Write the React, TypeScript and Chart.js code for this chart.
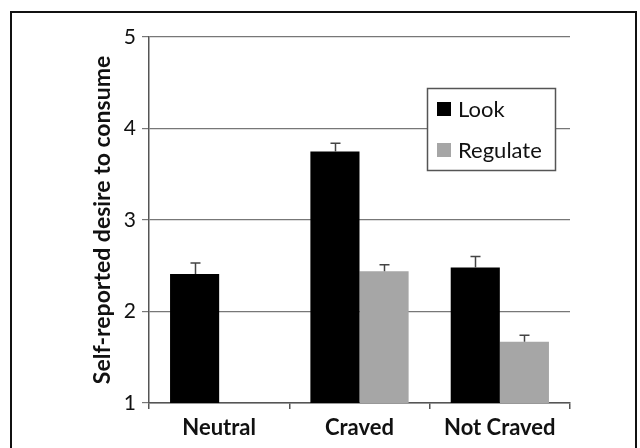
import React, { useEffect, useRef } from "react";
import { Chart, registerables } from "chart.js";

Chart.register(...registerables);

const categories = ["Neutral", "Craved", "Not Craved"];
const seriesNames = ["Look", "Regulate"];
const lookMeans = [2.41, 3.75, 2.48];
const lookErrors = [0.12, 0.09, 0.12];
const regulateMeans = [null, 2.44, 1.67];
const regulateErrors = [null, 0.07, 0.07];
const yTicks = [1, 2, 3, 4, 5];

const FONT = "Lato, 'Open Sans', sans-serif";

export default function App() {
  const ref = useRef<HTMLCanvasElement | null>(null);

  useEffect(() => {
    if (!ref.current) return;
    const errors = [lookErrors, regulateErrors];

    const framePlugin = {
      id: "frame",
      beforeDraw(chart: any) {
        const ctx = chart.ctx;
        ctx.save();
        ctx.fillStyle = "#ffffff";
        ctx.fillRect(0, 0, chart.width, chart.height);
        ctx.strokeStyle = "#111111";
        ctx.lineWidth = 2;
        ctx.strokeRect(11, 12, 625, 460);
        ctx.restore();
      },
    };

    const errorBarPlugin = {
      id: "errorBars",
      afterDatasetsDraw(chart: any) {
        const ctx = chart.ctx;
        const yScale = chart.scales.y;
        ctx.save();
        ctx.strokeStyle = "#444444";
        ctx.lineWidth = 1.5;
        chart.data.datasets.forEach((ds: any, di: number) => {
          const meta = chart.getDatasetMeta(di);
          meta.data.forEach((bar: any, i: number) => {
            const v = ds.data[i];
            const e = errors[di][i];
            if (v == null || e == null) return;
            const x = Math.round(bar.x) + 0.5;
            const y0 = yScale.getPixelForValue(v);
            const y1 = yScale.getPixelForValue(v + e);
            ctx.beginPath();
            ctx.moveTo(x, y0);
            ctx.lineTo(x, y1);
            ctx.moveTo(x - 5, y1);
            ctx.lineTo(x + 5, y1);
            ctx.stroke();
          });
        });
        ctx.restore();
      },
    };

    const legendBoxPlugin = {
      id: "legendBox",
      afterDraw(chart: any) {
        const ctx = chart.ctx;
        const area = chart.chartArea;
        const left = area.right - 143;
        const top = area.top + 51;
        const w = 128;
        const h = 82;
        ctx.save();
        ctx.fillStyle = "#ffffff";
        ctx.fillRect(left, top, w, h);
        ctx.strokeStyle = "#555555";
        ctx.lineWidth = 1.5;
        ctx.strokeRect(left + 0.5, top + 0.5, w, h);
        ctx.font = `22px ${FONT}`;
        ctx.textBaseline = "middle";
        ctx.textAlign = "left";
        chart.data.datasets.forEach((ds: any, i: number) => {
          const sy = top + 14 + i * 41;
          ctx.fillStyle = ds.backgroundColor;
          ctx.fillRect(left + 10, sy, 14, 14);
          ctx.fillStyle = "#111111";
          ctx.fillText(ds.label, left + 31, sy + 8);
        });
        ctx.restore();
      },
    };

    const chart = new Chart(ref.current, {
      type: "bar",
      data: {
        labels: categories,
        datasets: [
          {
            label: seriesNames[0],
            data: lookMeans,
            backgroundColor: "#000000",
            categoryPercentage: 0.7,
            barPercentage: 1.0,
          },
          {
            label: seriesNames[1],
            data: regulateMeans as any,
            backgroundColor: "#a6a6a6",
            categoryPercentage: 0.7,
            barPercentage: 1.0,
          },
        ],
      },
      options: {
        responsive: false,
        animation: false,
        layout: { padding: { left: 89, top: 37, right: 70, bottom: 0 } },
        plugins: {
          legend: { display: false },
          tooltip: { enabled: false },
        },
        scales: {
          x: {
            grid: {
              display: true,
              drawOnChartArea: false,
              drawTicks: true,
              tickLength: 6,
              color: "#555555",
              lineWidth: 1.5,
            },
            border: { display: true, color: "#555555", width: 1.5 },
            ticks: {
              color: "#111111",
              padding: 6,
              font: { family: FONT, size: 22, weight: "bold" },
            },
            afterFit(scale: any) {
              scale.height = 45;
            },
          },
          y: {
            min: 1,
            max: 5,
            afterBuildTicks(scale: any) {
              scale.ticks = yTicks.map((v) => ({ value: v }));
            },
            grid: {
              color: "#777777",
              lineWidth: 1.2,
              drawTicks: true,
              tickLength: 7,
            },
            border: { display: true, color: "#555555", width: 1.5 },
            ticks: {
              color: "#111111",
              padding: 6,
              font: { family: FONT, size: 21 },
            },
            title: {
              display: true,
              text: "Self-reported desire to consume",
              color: "#111111",
              padding: 0,
              font: { family: FONT, size: 23, weight: "bold" },
            },
            afterFit(scale: any) {
              scale.width = 60;
            },
          },
        },
      },
      plugins: [framePlugin, errorBarPlugin, legendBoxPlugin],
    });

    return () => chart.destroy();
  }, []);

  return (
    <div style={{ position: "fixed", left: 0, top: 0, width: 640, height: 448, background: "#fff" }}>
      <canvas ref={ref} width={640} height={448} style={{ display: "block" }} />
    </div>
  );
}
